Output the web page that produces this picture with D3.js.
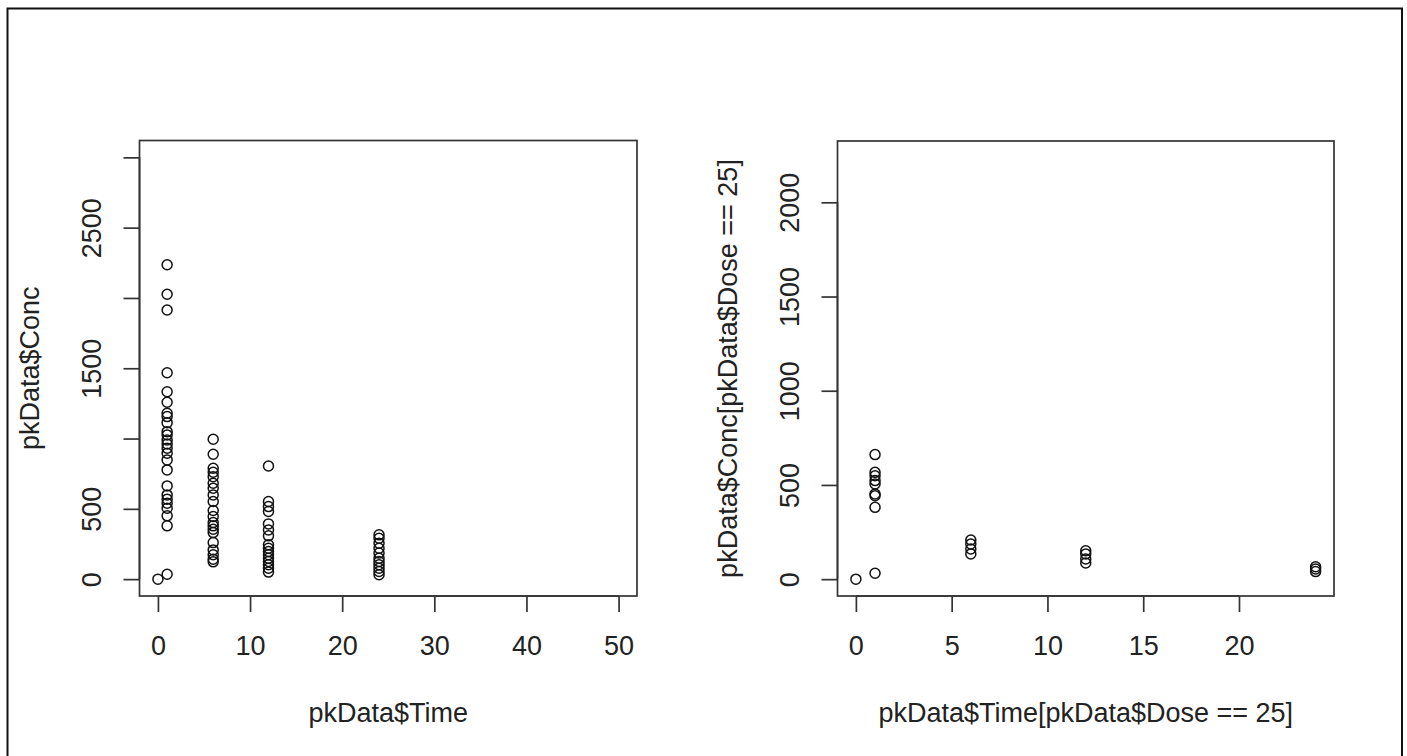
<!DOCTYPE html>
<html><head><meta charset="utf-8">
<script src="https://cdn.jsdelivr.net/npm/d3@7"></script>
<style>
html,body{margin:0;padding:0;background:#fff;}
svg{display:block;}
text{font-family:"Liberation Sans",Arial,sans-serif;fill:#222;}
</style></head>
<body>
<svg id="chart" width="1407" height="756"></svg>
<script>
// ---- data ----
const allTime = [0,
  1,1,1,1,1,1,1,1,1,1,1,1,1,1,1,1,1,1,1,1,1,1,1,1,1,
  6,6,6,6,6,6,6,6,6,6,6,6,6,6,6,6,6,6,6,6,
  12,12,12,12,12,12,12,12,12,12,12,12,12,12,12,12,
  24,24,24,24,24,24,24,24,24,24,24];
const allConc = [0,
  2236,2026,1914,1468,1333,1258,1180,1156,1113,1049,1026,990,962,931,896,848,777,663,599,569,540,505,450,379,35,
  995,888,789,760,729,682,647,599,552,488,445,402,379,355,331,260,208,173,142,123,
  805,552,516,481,393,350,308,244,220,196,173,149,125,102,78,50,
  315,291,256,220,185,149,125,102,78,54,31];
const doseTime = [0,1,1,1,1,1,1,1,1,1,6,6,6,6,12,12,12,12,24,24,24];
const doseConc = [0,661,567,549,523,505,452,443,381,31,208,187,160,134,151,134,107,86,66,54,40];

const leftXTicks = [0,10,20,30,40,50];
const leftYTicks = [0,500,1000,1500,2000,2500,3000];
const leftYLabels = ["0","500","","1500","","2500",""];
const rightXTicks = [0,5,10,15,20];
const rightYTicks = [0,500,1000,1500,2000];
const rightYLabels = ["0","500","1000","1500","2000"];

const leftXLabel = "pkData$Time";
const leftYLabel = "pkData$Conc";
const rightXLabel = "pkData$Time[pkData$Dose == 25]";
const rightYLabel = "pkData$Conc[pkData$Dose == 25]";

const svg = d3.select("#chart");
const FS = 27;
const FONT = "Liberation Sans, Arial, sans-serif";

// outer frame
svg.append("rect").attr("x",7.5).attr("y",8.5).attr("width",1394.5).attr("height",760)
  .attr("fill","none").attr("stroke","#111").attr("stroke-width",2);

function ext(lo, hi){ const d=(hi-lo)*0.04; return [lo-d, hi+d]; }

function panel(o){
  const x = d3.scaleLinear().domain(ext(o.xlim[0],o.xlim[1])).range([o.left,o.right]);
  const y = d3.scaleLinear().domain(ext(o.ylim[0],o.ylim[1])).range([o.bottom,o.top]);
  const g = svg.append("g");
  g.append("rect").attr("x",o.left).attr("y",o.top).attr("width",o.right-o.left).attr("height",o.bottom-o.top)
    .attr("fill","none").attr("stroke","#333").attr("stroke-width",1.7);
  // x axis
  const xa = g.append("g").attr("transform",`translate(0,${o.bottom})`)
    .call(d3.axisBottom(x).tickValues(o.xTicks).tickSize(16).tickFormat(d3.format("d")));
  xa.select(".domain").attr("d",`M${x(o.xTicks[0])},0H${x(o.xTicks[o.xTicks.length-1])}`).attr("stroke","#333").attr("stroke-width",1.7);
  xa.selectAll(".tick line").attr("stroke","#333").attr("stroke-width",1.7);
  xa.selectAll(".tick text").attr("y",58.5).attr("dy",0).attr("font-size",FS).attr("fill","#222")
    .attr("font-family",FONT);
  // y axis
  const ya = g.append("g").attr("transform",`translate(${o.left},0)`)
    .call(d3.axisLeft(y).tickValues(o.yTicks).tickSize(16).tickFormat((d,i)=>o.yLabels[i]));
  ya.select(".domain").attr("d",`M0,${y(o.yTicks[0])}V${y(o.yTicks[o.yTicks.length-1])}`).attr("stroke","#333").attr("stroke-width",1.7);
  ya.selectAll(".tick line").attr("stroke","#333").attr("stroke-width",1.7);
  ya.selectAll(".tick text").attr("x",0).attr("dy",0).attr("text-anchor","middle")
    .attr("transform",`translate(${-38.5},0) rotate(-90)`)
    .attr("font-size",FS).attr("fill","#222").attr("font-family",FONT);
  // titles
  g.append("text").attr("x",(o.left+o.right)/2).attr("y",o.bottom+126).attr("text-anchor","middle")
    .attr("font-size",FS).text(o.xLabel);
  g.append("text").attr("transform",`translate(${o.left-100.5},${(o.top+o.bottom)/2}) rotate(-90)`)
    .attr("text-anchor","middle").attr("font-size",FS).text(o.yLabel);
  // points
  g.selectAll("circle.pt").data(o.xs.map((t,i)=>[t,o.ys[i]])).join("circle")
    .attr("class","pt").attr("cx",d=>x(d[0])).attr("cy",d=>y(d[1])).attr("r",5)
    .attr("fill","none").attr("stroke","#111").attr("stroke-width",1.5);
}

panel({left:139.5,right:637,top:140.5,bottom:596,xlim:[0,50],ylim:[0,3000],
  xTicks:leftXTicks,yTicks:leftYTicks,yLabels:leftYLabels,xLabel:leftXLabel,yLabel:leftYLabel,
  xs:allTime,ys:allConc});
panel({left:837.5,right:1334,top:141,bottom:596,xlim:[0,24],ylim:[0,d3.max(allConc)],
  xTicks:rightXTicks,yTicks:rightYTicks,yLabels:rightYLabels,xLabel:rightXLabel,yLabel:rightYLabel,
  xs:doseTime,ys:doseConc});
</script>
</body></html>
